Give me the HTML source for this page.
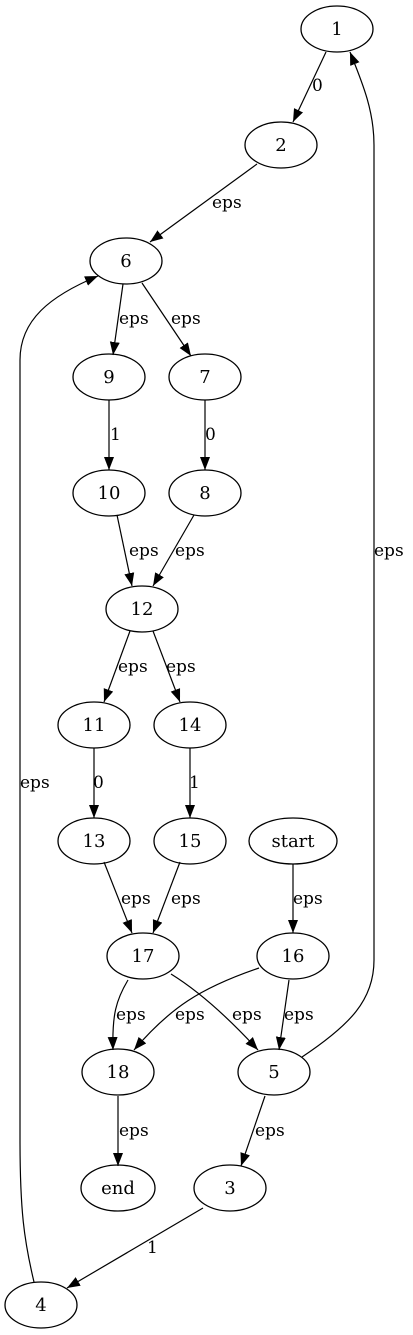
<!DOCTYPE html>
<html><head><meta charset="utf-8"><style>
html,body{margin:0;padding:0;background:#fff;}
svg{display:block;}
text{font-family:"DejaVu Serif","Liberation Serif",serif;fill:#000;}
.n{font-size:18px;text-anchor:middle;}
.l{font-size:17px;}
</style></head><body>
<svg width="413" height="1335" viewBox="0 0 413 1335" xmlns="http://www.w3.org/2000/svg">
<defs><marker id="a" markerUnits="userSpaceOnUse" markerWidth="14" markerHeight="12" refX="13" refY="5" orient="auto"><path d="M0,0 L13,5 L0,10 Z" fill="#000"/></marker></defs>
<g fill="none" stroke="#000" stroke-width="1.3">
<ellipse cx="337" cy="29" rx="36" ry="23"/>
<ellipse cx="281" cy="145" rx="36" ry="23"/>
<ellipse cx="126" cy="261" rx="36" ry="23"/>
<ellipse cx="109" cy="377" rx="36" ry="23"/>
<ellipse cx="205" cy="377" rx="36" ry="23"/>
<ellipse cx="109" cy="493" rx="36" ry="23"/>
<ellipse cx="205" cy="493" rx="36" ry="23"/>
<ellipse cx="142" cy="609" rx="36" ry="23"/>
<ellipse cx="94" cy="725" rx="36" ry="23"/>
<ellipse cx="190" cy="725" rx="36" ry="23"/>
<ellipse cx="94" cy="841" rx="36" ry="23"/>
<ellipse cx="190" cy="841" rx="36" ry="23"/>
<ellipse cx="293" cy="841" rx="44" ry="23"/>
<ellipse cx="143" cy="956" rx="36" ry="23"/>
<ellipse cx="293" cy="956" rx="36" ry="23"/>
<ellipse cx="118" cy="1072" rx="36" ry="23"/>
<ellipse cx="274" cy="1072" rx="36" ry="23"/>
<ellipse cx="118" cy="1188" rx="37" ry="23"/>
<ellipse cx="230" cy="1188" rx="36" ry="23"/>
<ellipse cx="41" cy="1305" rx="36" ry="23"/>
</g>
<g fill="none" stroke="#000" stroke-width="1.2" marker-end="url(#a)">
<path d="M326,52 L293,122"/>
<path d="M257,164 L150,242"/>
<path d="M123,284 L113,355"/>
<path d="M142,283 L191,356"/>
<path d="M109,400 L109,470"/>
<path d="M205,400 L205,470"/>
<path d="M117,515 L132,586"/>
<path d="M194,515 L153,586"/>
<path d="M130,631 L104,702"/>
<path d="M153,631 L180,702"/>
<path d="M94,748 L94,818"/>
<path d="M190,748 L190,818"/>
<path d="M104,862 L132,933"/>
<path d="M180,862 L153,933"/>
<path d="M293,864 L293,933"/>
<path d="M128,980 C116,1000 112,1015 113,1050"/>
<path d="M171,974 C205,995 235,1025 258,1050"/>
<path d="M259,968 C200,988 170,1008 134,1050"/>
<path d="M289,980 L279,1050"/>
<path d="M118,1096 L118,1166"/>
<path d="M265,1096 L241,1166"/>
<path d="M203,1208 L67,1288"/>
<path d="M302,1057 C350,1025 374,1000 374,960 L374,145 C374,110 362,82 350,52"/>
<path d="M34,1282 C24,1240 20,1210 20,1140 L20,360 C20,320 50,296 98,276"/>
</g>
<g class="n">
<text x="337" y="35">1</text><text x="281" y="151">2</text><text x="126" y="267">6</text>
<text x="109" y="383">9</text><text x="205" y="383">7</text><text x="109" y="499">10</text>
<text x="205" y="499">8</text><text x="142" y="615">12</text><text x="94" y="731">11</text>
<text x="190" y="731">14</text><text x="94" y="847">13</text><text x="190" y="847">15</text>
<text x="293" y="847">start</text><text x="143" y="962">17</text><text x="293" y="962">16</text>
<text x="118" y="1078">18</text><text x="274" y="1078">5</text><text x="118" y="1194">end</text>
<text x="230" y="1194">3</text><text x="41" y="1311">4</text>
</g>
<g class="l">
<text x="312" y="91">0</text><text x="212" y="208">eps</text>
<text x="119" y="324">eps</text><text x="171" y="324">eps</text>
<text x="110" y="440">1</text><text x="205" y="440">0</text>
<text x="129" y="556">eps</text><text x="175" y="556">eps</text>
<text x="118" y="672">eps</text><text x="166" y="672">eps</text>
<text x="93" y="788">0</text><text x="189" y="788">1</text>
<text x="121" y="904">eps</text><text x="171" y="904">eps</text>
<text x="293" y="904">eps</text>
<text x="116" y="1020">eps</text><text x="175" y="1020">eps</text>
<text x="232" y="1020">eps</text><text x="284" y="1020">eps</text>
<text x="119" y="1136">eps</text><text x="255" y="1136">eps</text>
<text x="147" y="1253">1</text>
<text x="374" y="556">eps</text><text x="20" y="788">eps</text>
</g>
</svg>
</body></html>
